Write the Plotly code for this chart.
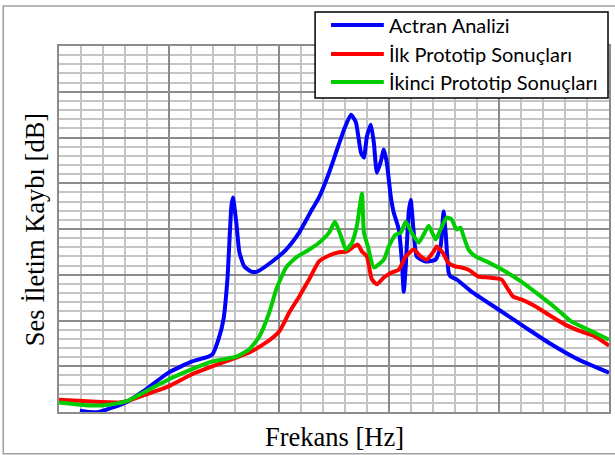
import plotly.graph_objects as go

# ---------------- data ----------------
actran_hz = [190, 281, 362, 607, 788, 996, 1205, 1359, 1395, 1449, 1495, 1531, 1567, 1581, 1612, 1640,
             1685, 1748, 1803, 1938, 2065, 2183, 2301, 2364, 2455, 2518, 2591, 2654, 2699, 2745, 2772,
             2799, 2835, 2862, 2890, 2926, 2953, 2980, 3016, 3043, 3089, 3116, 3134, 3152, 3179, 3197,
             3225, 3252, 3333, 3424, 3469, 3496, 3515, 3542, 3560, 3614, 3750, 3995, 4239, 4475, 4719, 5000]
actran_db = [0.3, 0.0, 0.0, 2.1, 4.9, 8.6, 11.0, 12.1, 12.6, 15.8, 20.2, 29.0, 44.9, 46.9, 41.4, 34.9,
             31.8, 30.7, 30.7, 32.9, 35.5, 39.2, 44.3, 46.9, 52.3, 56.7, 61.7, 65.0, 63.3, 56.7, 55.6,
             60.2, 62.8, 58.9, 52.3, 54.8, 57.4, 54.5, 47.1, 43.6, 39.9, 33.3, 26.3, 31.8, 43.6, 46.4,
             39.2, 34.0, 32.9, 33.3, 36.2, 43.8, 39.2, 30.5, 29.6, 29.0, 26.3, 22.4, 18.5, 14.8, 11.5, 8.6]

ilk_hz = [0, 299, 543, 607, 788, 996, 1205, 1386, 1612, 1730, 1884, 2002, 2092, 2183, 2274, 2364,
          2455, 2545, 2618, 2681, 2717, 2754, 2799, 2844, 2890, 2953, 3025, 3089, 3152, 3225, 3288,
          3342, 3406, 3433, 3487, 3542, 3605, 3659, 3723, 3813, 3904, 4022, 4067, 4130, 4203, 4330,
          4448, 4602, 4746, 4873, 5000]
ilk_db = [2.7, 2.3, 2.1, 2.3, 3.8, 5.6, 8.2, 9.9, 11.9, 13.0, 15.2, 17.6, 21.7, 25.2, 29.0, 32.9,
          34.2, 34.9, 35.1, 36.2, 36.6, 35.1, 34.0, 29.0, 27.9, 29.4, 30.5, 31.1, 34.0, 35.5, 34.0,
          33.3, 35.1, 36.2, 34.9, 32.5, 31.8, 31.6, 31.1, 29.6, 29.4, 29.0, 27.4, 25.2, 24.6, 23.1,
          21.3, 19.1, 17.6, 16.5, 14.5]

ikinci_hz = [0, 299, 453, 607, 788, 996, 1205, 1386, 1612, 1730, 1821, 1911, 1975, 2065, 2156, 2274,
             2364, 2455, 2509, 2563, 2609, 2663, 2708, 2754, 2772, 2808, 2862, 2953, 2998, 3062, 3107,
             3152, 3207, 3270, 3324, 3361, 3424, 3469, 3524, 3569, 3614, 3650, 3678, 3723, 3786, 3904,
             4058, 4203, 4357, 4511, 4656, 4810, 5000]
ikinci_db = [2.1, 1.4, 1.6, 2.3, 4.5, 7.1, 9.3, 11.0, 12.1, 13.7, 16.5, 21.7, 26.8, 31.6, 33.8, 35.5,
             37.0, 39.2, 41.6, 38.4, 35.5, 37.0, 40.7, 47.7, 39.2, 36.2, 31.6, 33.3, 36.2, 38.8, 39.2,
             41.6, 39.2, 37.0, 39.2, 40.7, 37.7, 39.9, 42.5, 42.1, 39.9, 40.3, 38.4, 35.5, 34.0, 32.7,
             30.7, 28.5, 25.7, 22.8, 19.8, 18.0, 15.8]

series_names = ["Actran Analizi", "İlk Prototip Sonuçları", "İkinci Prototip Sonuçları"]
series_colors = ["#0000ff", "#ff0000", "#00cc00"]
x_title = "Frekans [Hz]"
y_title = "Ses İletim Kaybı [dB]"

# ---------------- figure ----------------
fig = go.Figure()
for xs, ys, name, col in zip([actran_hz, ilk_hz, ikinci_hz], [actran_db, ilk_db, ikinci_db],
                             series_names, series_colors):
    fig.add_trace(go.Scatter(x=xs, y=ys, mode="lines", name=name,
                             line=dict(color=col, width=4, shape="spline", smoothing=0.5),
                             showlegend=False))

axis_common = dict(showticklabels=False, ticks="", zeroline=False, showline=True, mirror=True,
                   linecolor="#8c8c8c", linewidth=2, showgrid=True, gridcolor="#8c8c8c", gridwidth=1.5)
fig.update_xaxes(range=[0, 5000], dtick=1000,
                 minor=dict(dtick=200, showgrid=True, gridcolor="#c4c4c4", gridwidth=1.5),
                 **axis_common)
fig.update_yaxes(range=[0, 80], dtick=10,
                 minor=dict(dtick=2, showgrid=True, gridcolor="#c4c4c4", gridwidth=1.5),
                 **axis_common)

# outer chart border
fig.add_shape(type="rect", xref="paper", yref="paper", x0=-0.1014, x1=1.02, y0=-0.1142, y1=1.1093,
              line=dict(color="#a0a0a0", width=1.5), fillcolor="rgba(0,0,0,0)", layer="below")

# legend (custom, to match long line samples)
fig.add_shape(type="rect", xref="paper", yref="paper", x0=0.4656, x1=0.9982, y0=0.858, y1=1.0929,
              line=dict(color="black", width=1.5), fillcolor="white", layer="above")
leg_y = [1.0573, 0.9781, 0.9016]
for name, col, yy in zip(series_names, series_colors, leg_y):
    fig.add_shape(type="line", xref="paper", yref="paper", x0=0.4946, x1=0.5906, y0=yy, y1=yy,
                  line=dict(color=col, width=4), layer="above")
    fig.add_annotation(text=name, xref="paper", yref="paper", x=0.5960, y=yy, xanchor="left",
                       yanchor="middle", showarrow=False,
                       font=dict(family="Lato", size=20, color="black"))

fig.add_annotation(text=x_title, xref="paper", yref="paper", x=0.5, y=-0.068, xanchor="center",
                   yanchor="middle", showarrow=False,
                   font=dict(family="Liberation Serif", size=26.5, color="black"))
fig.add_annotation(text=y_title, xref="paper", yref="paper", x=-0.0435, y=0.497, xanchor="center",
                   yanchor="middle", showarrow=False, textangle=-90,
                   font=dict(family="Liberation Serif", size=26.5, color="black"))

fig.update_layout(width=615, height=455, margin=dict(l=59, r=4, t=46, b=43),
                  paper_bgcolor="white", plot_bgcolor="white")
fig.write_html("out.html", config={"displayModeBar": False},
               post_script="document.body.style.margin='0';document.body.style.padding='0';")
